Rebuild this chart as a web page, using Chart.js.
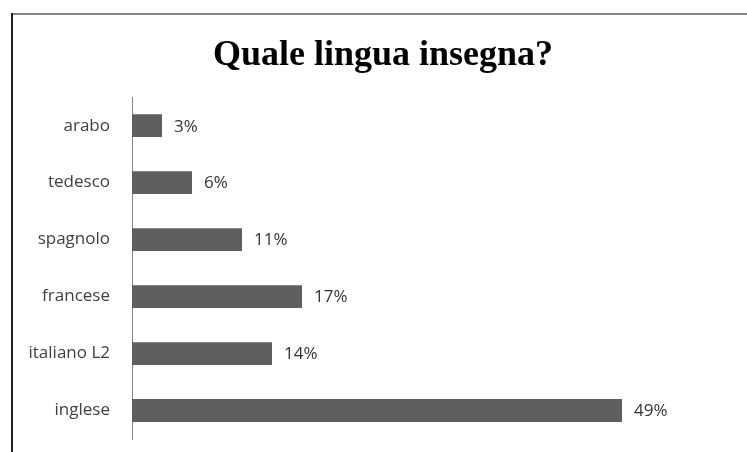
<!DOCTYPE html>
<html>
<head>
<meta charset="utf-8">
<script src="https://cdn.jsdelivr.net/npm/chart.js@4/dist/chart.umd.min.js"></script>
<style>
  html, body { margin: 0; padding: 0; background: #fff; }
  #wrap { position: relative; width: 747px; height: 452px; }
</style>
</head>
<body>
<div id="wrap"><canvas id="chart" width="747" height="452"></canvas></div>
<script>
// Your JavaScript code goes here

const lingue = ["arabo", "tedesco", "spagnolo", "francese", "italiano L2", "inglese"];
const percentuali = [3, 6, 11, 17, 14, 49];

const ctx = document.getElementById("chart");

// Frame around the chart (grey top, dark left edge)
const framePlugin = {
  id: "frame",
  beforeDraw(chart) {
    const c = chart.ctx;
    c.save();
    c.fillStyle = "#fff";
    c.fillRect(0, 0, chart.width, chart.height);
    c.fillStyle = "#868686";
    c.fillRect(11, 13, chart.width - 11, 2);
    c.fillStyle = "#1e1e1e";
    c.fillRect(11, 13, 2, chart.height - 13);
    c.restore();
  },
  // the left padding only shifts the title; let the long labels use the room
  afterLayout(chart) {
    chart.scales.y.left = 14;
  },
};

// Percent labels to the right of each bar
const labelPlugin = {
  id: "valueLabels",
  afterDatasetsDraw(chart) {
    const c = chart.ctx;
    const meta = chart.getDatasetMeta(0);
    c.save();
    c.font = "17px 'Open Sans'";
    c.fillStyle = "#333";
    c.textAlign = "left";
    c.textBaseline = "middle";
    meta.data.forEach((bar, i) => {
      c.fillText(percentuali[i] + "%", bar.x + 12, bar.y + 1);
    });
    c.restore();
  },
};

const chart = new Chart(ctx, {
  type: "bar",
  data: {
    labels: lingue,
    datasets: [
      {
        label: "Quale lingua insegna?",
        data: percentuali,
        backgroundColor: "#5f5f5f",
        borderWidth: 0,
        barPercentage: 0.4,
        categoryPercentage: 1,
      },
    ],
  },
  options: {
    indexAxis: "y",
    responsive: false,
    animation: false,
    layout: {
      padding: { top: 10, left: 34, right: 15, bottom: 13 },
    },
    plugins: {
      legend: { display: false },
      tooltip: { enabled: false },
      title: {
        display: true,
        text: "Quale lingua insegna?",
        color: "#000",
        font: { family: "'Liberation Serif'", size: 36, weight: "bold", lineHeight: 1.2 },
        padding: { top: 24, bottom: 20 },
      },
    },
    scales: {
      x: {
        display: false,
        min: 0,
        max: 60,
      },
      y: {
        grid: { display: false, drawTicks: false },
        border: { display: true, color: "#868686", width: 1 },
        ticks: {
          color: "#404040",
          padding: 22,
          font: { family: "'Open Sans'", size: 17 },
        },
        afterFit(scale) {
          scale.width = 98;
          // labels sit inside their category band, no extra room above/below
          scale.paddingTop = 0;
          scale.paddingBottom = 0;
        },
      },
    },
  },
  plugins: [framePlugin, labelPlugin],
});
</script>
</body>
</html>
